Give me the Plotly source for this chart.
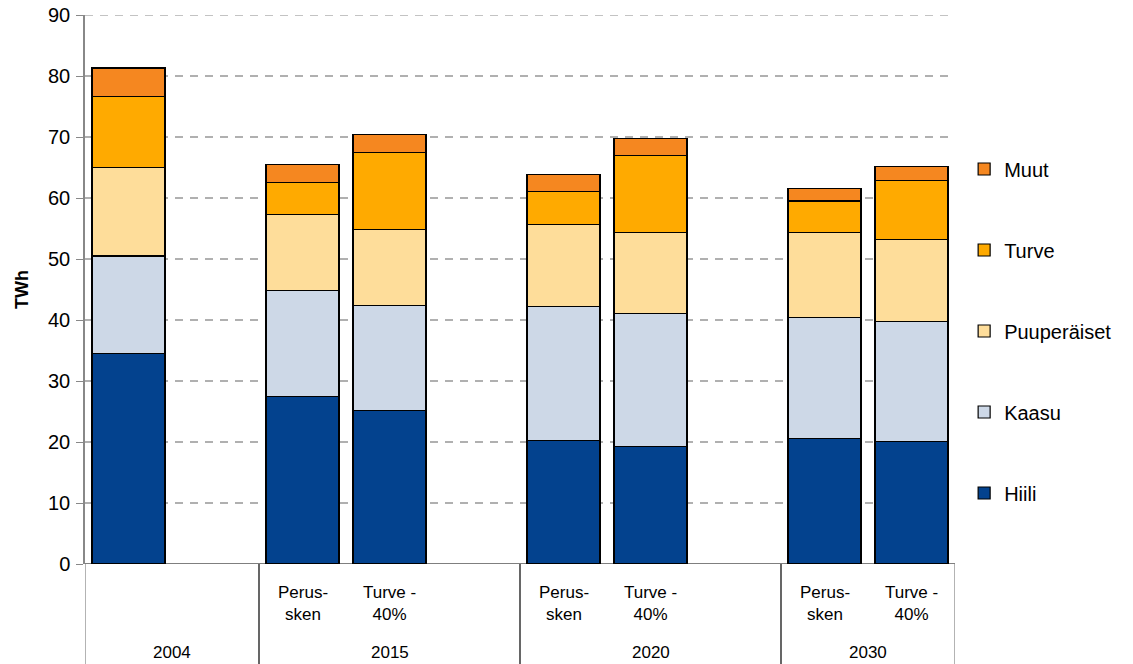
import plotly.graph_objects as go

# Category structure (blank slots mirror the spacing in the original chart)
groups = ["2004", "2004", "2015", "2015", "2015", "2020", "2020", "2020", "2030", "2030"]
subcats = ["", "", "Perus-<br>sken", "Turve -<br>40%", "",
           "Perus-<br>sken", "Turve -<br>40%", "", "Perus-<br>sken", "Turve -<br>40%"]

# Series values (TWh), None = empty slot
hiili = [34.5, None, 27.5, 25.2, None, 20.2, 19.3, None, 20.6, 20.1]
kaasu = [16.0, None, 17.4, 17.2, None, 22.0, 21.8, None, 19.8, 19.7]
puuperaiset = [14.5, None, 12.4, 12.4, None, 13.5, 13.2, None, 13.9, 13.4]
turve = [11.6, None, 5.3, 12.7, None, 5.4, 12.7, None, 5.2, 9.7]
muut = [4.7, None, 2.9, 2.9, None, 2.8, 2.7, None, 2.1, 2.3]

series = [
    ("Hiili", hiili, "#03428E"),
    ("Kaasu", kaasu, "#CDD8E7"),
    ("Puuperäiset", puuperaiset, "#FEDD9A"),
    ("Turve", turve, "#FFAA00"),
    ("Muut", muut, "#F58720"),
]

y_ticks = list(range(0, 100, 10))

FONT = "Arial, 'Liberation Sans', sans-serif"
xs = list(range(len(groups)))

fig = go.Figure()
n = len(series)
for k, (name, vals, color) in enumerate(series):
    fig.add_trace(go.Bar(
        x=xs, y=vals, name=name, legendgroup=name, legendrank=n - k,
        marker=dict(color=color, line=dict(color="#000000", width=1.2)),
        width=0.84,
    ))

# sub-category labels
for i, lab in enumerate(subcats):
    if lab:
        fig.add_annotation(x=i, xref="x", y=0, yref="paper", text=lab,
                           showarrow=False, yanchor="middle", yshift=-39,
                           font=dict(size=17, color="#000", family=FONT))

# group labels and separators
bounds = [0]
for i in range(1, len(groups)):
    if groups[i] != groups[i - 1]:
        bounds.append(i)
bounds.append(len(groups))
for a, b in zip(bounds[:-1], bounds[1:]):
    fig.add_annotation(x=(a + b - 1) / 2, xref="x", y=0, yref="paper", text=groups[a],
                       showarrow=False, yanchor="middle", yshift=-88,
                       font=dict(size=17, color="#000", family=FONT))
for k, bnd in enumerate(bounds):
    col = "#000000" if 0 < k < len(bounds) - 1 else "#808080"
    fig.add_shape(type="line", xref="x", yref="paper", x0=bnd - 0.5, x1=bnd - 0.5,
                  y0=0, y1=-100 / 549, line=dict(color=col, width=1.2), layer="above")

# top gridline (at the range edge, where Plotly omits the grid)
fig.add_shape(type="line", xref="paper", yref="y", x0=0, x1=1, y0=y_ticks[-1], y1=y_ticks[-1],
              line=dict(color="#B0B0B0", width=1.5, dash="8px,7px"), layer="below")

# x-axis baseline
fig.add_shape(type="line", xref="paper", yref="y", x0=0, x1=1, y0=0, y1=0,
              line=dict(color="#000000", width=1.2), layer="above")

fig.update_layout(
    width=1133, height=664,
    margin=dict(l=85, r=178, t=15, b=100, autoexpand=False),
    barmode="stack",
    plot_bgcolor="white", paper_bgcolor="white",
    font=dict(family=FONT, color="#000"),
    xaxis=dict(range=[-0.5, len(groups) - 0.5], showticklabels=False, showgrid=False,
               zeroline=False, showline=False, fixedrange=True),
    yaxis=dict(range=[0, 90], tickvals=y_ticks, showgrid=True, gridcolor="#B0B0B0",
               gridwidth=1.5, griddash="8px,7px", zeroline=False,
               showline=True, linecolor="#888888", linewidth=1.5,
               ticks="outside", ticklen=7, tickcolor="#888888", tickwidth=1.2,
               ticklabelstandoff=2,
               tickfont=dict(size=20, family=FONT, color="#000"),
               title=dict(text="<b>TWh</b>", font=dict(size=18, family=FONT, color="#000"),
                          standoff=15)),
    legend=dict(x=1.0105, xanchor="left", y=0.755, yanchor="top",
                traceorder="grouped", tracegroupgap=52,
                font=dict(size=20, family=FONT, color="#000"),
                bgcolor="rgba(0,0,0,0)"),
    showlegend=True,
)

fig.write_html("out.html")
